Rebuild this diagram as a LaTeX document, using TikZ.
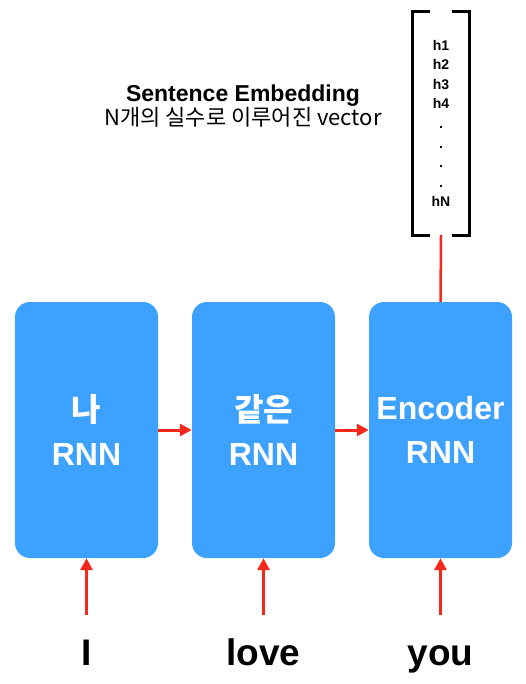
\documentclass[tikz,border=0pt]{standalone}
\usepackage{fontspec}
\setmainfont{Liberation Sans}
\newfontfamily\kr{Noto Sans CJK KR}
\usepackage{xcolor}
\usepackage{tikz}
\usetikzlibrary{arrows.meta}

\definecolor{rnnblue}{HTML}{3DA1FF}
\definecolor{flowred}{HTML}{F5281C}

\tikzset{
  rnn/.style={shape=rectangle,rounded corners=15pt,fill=rnnblue,minimum width=143pt,minimum height=256pt,
    inner sep=0pt,text=white,align=center,font=\fontsize{32}{44}\selectfont\bfseries},
  word/.style={anchor=base,inner sep=0pt,text height=27pt,font=\fontsize{37}{40}\selectfont\bfseries},
  flow/.style={draw=flowred,line width=3pt,-{Triangle[length=12pt,width=12pt]}},
  vecbox/.style={shape=rectangle,minimum width=56pt,minimum height=223pt,inner sep=0pt,align=center,
    font=\fontsize{14}{19.6}\selectfont\bfseries}
}

\begin{document}
\begin{tikzpicture}[x=1pt,y=-1pt]
    \useasboundingbox (0,0) rectangle (526,684);
    % rnn cells
    \node[rnn] (nA) at (86.5,430){{\kr 나}\\RNN};
    \node[rnn] (nB) at (263.5,430){{\kr 같은}\\RNN};
    \node[rnn] (nC) at (440.5,430){Encoder\\RNN};
    % input words
    \node[word] (wA) at (86.5,665){I};
    \node[word] (wB) at (263.5,665){love};
    \node[word] (wC) at (440.5,665){you};
    % sentence vector
    \node[vecbox] (vec) at (441,123.5){h1\\h2\\h3\\h4\\.\\.\\.\\.\\hN};
    \draw[line width=3pt] ([xshift=17pt]vec.north west) -| (vec.south west) -- ++(17,0);
    \draw[line width=3pt] ([xshift=-17pt]vec.north east) -| (vec.south east) -- ++(-17,0);
    \node[align=center] (title) at (243,106){{\fontsize{23}{25}\selectfont\bfseries Sentence Embedding}\\
      {\kr\fontsize{22}{25}\selectfont N개의 실수로 이루어진 vector}};
    % connectors
    \path (nA.east) edge[flow] (nB.west);
    \path (nB.east) edge[flow] (nC.west);
    \path (wA.north) edge[flow,shorten <=23pt] (nA.south);
    \path (wB.north) edge[flow,shorten <=23pt] (nB.south);
    \path (wC.north) edge[flow,shorten <=23pt] (nC.south);
    \path (vec.south) edge[draw=flowred,line width=2.5pt] (nC.north);
\end{tikzpicture}
\end{document}
